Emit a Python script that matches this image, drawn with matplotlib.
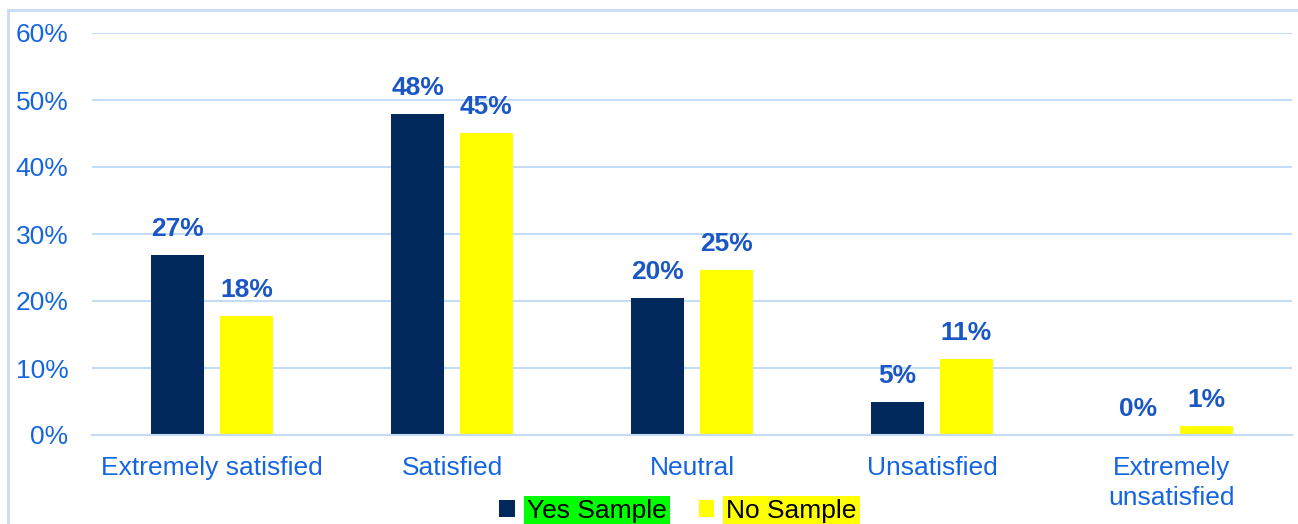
import numpy as np
import matplotlib.pyplot as plt
from matplotlib.lines import Line2D
from matplotlib.patches import Patch

categories = ["Extremely satisfied", "Satisfied", "Neutral", "Unsatisfied", "Extremely\nunsatisfied"]
yes_sample = [26.9, 47.9, 20.4, 4.9, 0.0]
no_sample = [17.8, 45.1, 24.6, 11.4, 1.3]
yticks = [0, 10, 20, 30, 40, 50, 60]

plt.rcParams['font.family'] = ['Liberation Sans', 'DejaVu Sans']

navy = '#00285A'
yellow = '#FFFF00'
tick_blue = '#1565E0'
label_blue = '#1B57C4'
grid_blue = '#C5DCF7'
fs = 19

fig = plt.figure(figsize=(12.98, 5.24), dpi=100)
ax = fig.add_axes([92 / 1298, 1 - 435 / 524, 1200 / 1298, 402 / 524])

x = np.arange(len(categories))
w = 0.22
off = 0.143
b1 = ax.bar(x - off, yes_sample, w, color=navy)
b2 = ax.bar(x + off, no_sample, w, color=yellow)

# value labels on top of bars
for bars, vals in [(b1, yes_sample), (b2, no_sample)]:
    for bar, v in zip(bars, vals):
        ax.annotate(f"{round(v)}%", (bar.get_x() + bar.get_width() / 2, v),
                    xytext=(0, 10), textcoords='offset points', ha='center', va='bottom',
                    fontsize=fs, fontweight='bold', color=label_blue)

ax.set_xlim(-0.5, len(categories) - 0.5)
ax.set_ylim(0, 60)
ax.set_yticks(yticks)
ax.set_yticklabels([f"{t}%" for t in yticks])
ax.set_xticks(x)
ax.set_xticklabels(categories)
ax.tick_params(axis='y', length=0, pad=17, labelsize=fs, labelcolor=tick_blue)
ax.tick_params(axis='x', length=0, pad=15, labelsize=fs, labelcolor=tick_blue)
for lbl in ax.get_xticklabels():
    lbl.set_linespacing(1.3)

ax.grid(axis='y', color=grid_blue, linewidth=1.5)
ax.set_axisbelow(True)
for s in ['top', 'right', 'left']:
    ax.spines[s].set_visible(False)
ax.spines['bottom'].set_color(grid_blue)
ax.spines['bottom'].set_linewidth(1.5)

handles = [Patch(facecolor=navy), Patch(facecolor=yellow)]
leg = fig.legend(handles, ["Yes Sample", "No Sample"], loc='center',
                 bbox_to_anchor=(678 / 1298, 1 - 511 / 524), ncol=2, frameon=False,
                 fontsize=fs, handlelength=0.6, handleheight=0.6, handletextpad=0.45,
                 columnspacing=1.2, borderaxespad=0, borderpad=0)
for t, c in zip(leg.get_texts(), ['#00FF00', yellow]):
    t.set_bbox(dict(facecolor=c, edgecolor='none', pad=2))

# light blue frame on left and top
fig.add_artist(Line2D([8 / 1298, 8 / 1298], [0, 1 - 10 / 524], transform=fig.transFigure,
                      color=grid_blue, linewidth=2))
fig.add_artist(Line2D([8 / 1298, 1], [1 - 10 / 524, 1 - 10 / 524], transform=fig.transFigure,
                      color=grid_blue, linewidth=2))

fig.savefig('out.png', dpi=100)
